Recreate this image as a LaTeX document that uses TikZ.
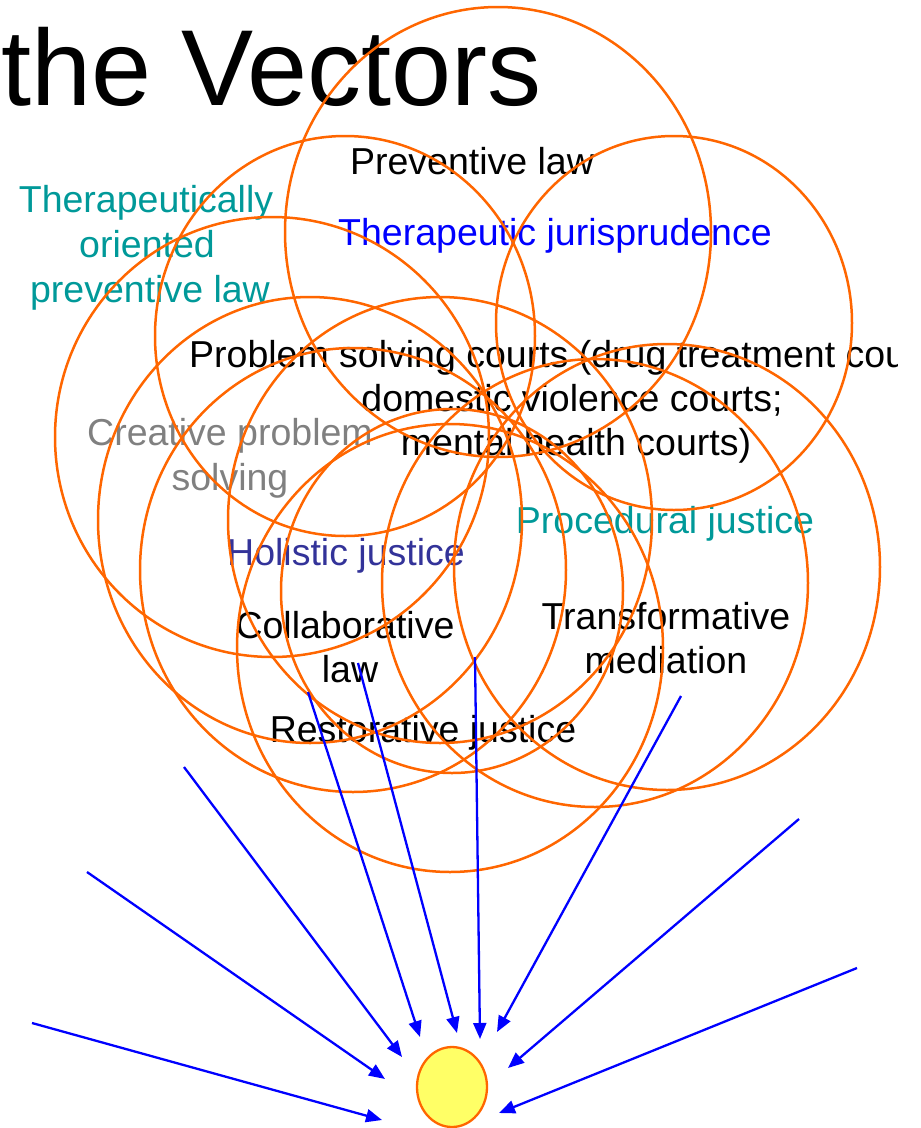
\documentclass[tikz,border=0pt]{standalone}
\usepackage{fontspec}
\setmainfont{Liberation Sans}
\usetikzlibrary{arrows.meta,shapes.geometric}
\definecolor{vorange}{HTML}{FF6600}
\definecolor{vblue}{HTML}{0000FF}
\definecolor{vteal}{HTML}{009999}
\definecolor{vgray}{HTML}{808080}
\definecolor{vslate}{HTML}{333399}
\definecolor{vyellow}{HTML}{FFFF66}
\begin{document}
\begin{tikzpicture}[x=1pt,y=-1pt,
  ring/.style={ellipse, draw=vorange, line width=2.5pt, inner sep=0pt, outer sep=0pt},
  lbl/.style={anchor=base, inner sep=0pt, font=\fontsize{37.5}{44}\selectfont},
  vec/.style={draw=vblue, line width=2.3pt, -{Triangle[length=16pt,width=13pt]}},
]
\useasboundingbox (0,0) rectangle (921,1128);
\clip (0,0) rectangle (897,1128);
% title
\node[anchor=base west, inner sep=0pt, font=\fontsize{108}{120}\selectfont] (title) at (1,105) {the Vectors};
% labels
\node[lbl] (prev) at (472,174) {Preventive law};
\node[lbl, text=vblue] (tj) at (555,245) {Therapeutic jurisprudence};
\node[lbl, text=vteal] (topl1) at (146,212) {Therapeutically};
\node[lbl, text=vteal] (topl2) at (147,257) {oriented};
\node[lbl, text=vteal] (topl3) at (150,302) {preventive law};
\node[lbl, anchor=base west] (psc1) at (189,367) {Problem solving courts (drug treatment cou};
\node[lbl] (psc2) at (572,411) {domestic violence courts;};
\node[lbl] (psc3) at (576,455) {mental health courts)};
\node[lbl, text=vgray] (cps1) at (230,445) {Creative problem};
\node[lbl, text=vgray] (cps2) at (230,490) {solving};
\node[lbl, text=vslate] (hol) at (346,565) {Holistic justice};
\node[lbl, text=vteal] (proc) at (665,533) {Procedural justice};
\node[lbl] (coll1) at (345,638) {Collaborative};
\node[lbl] (coll2) at (350,682) {law};
\node[lbl] (trans1) at (666,629) {Transformative};
\node[lbl] (trans2) at (666,673) {mediation};
\node[lbl] (rest) at (423,742) {Restorative justice};
% ellipses
\node[ring, minimum width=426pt, minimum height=450pt] (eA) at (498,232) {};
\node[ring, minimum width=380pt, minimum height=400pt] (eB) at (345,336) {};
\node[ring, minimum width=356pt, minimum height=374pt] (eC) at (674,323) {};
\node[ring, minimum width=434pt, minimum height=440pt] (eD) at (272,437) {};
\node[ring, minimum width=424pt, minimum height=446pt] (eE) at (310,520) {};
\node[ring, minimum width=424pt, minimum height=446pt] (eF) at (440,520) {};
\node[ring, minimum width=426pt, minimum height=444pt] (eG) at (353,570) {};
\node[ring, minimum width=426pt, minimum height=446pt] (eH) at (667,567) {};
\node[ring, minimum width=426pt, minimum height=448pt] (eI) at (450,648) {};
\node[ring, minimum width=426pt, minimum height=448pt] (eJ) at (595,583) {};
\node[ring, minimum width=342pt, minimum height=364pt] (eK) at (452,591) {};
% sun
\node[ellipse, draw=vorange, fill=vyellow, line width=2.3pt, inner sep=0pt, minimum width=70pt, minimum height=80pt] (sun) at (452,1087) {};
% arrows
\coordinate (t1) at (32,1023);  \coordinate (h1) at (382,1120);
\coordinate (t2) at (87,872);   \coordinate (h2) at (385,1079);
\coordinate (t3) at (184,767);  \coordinate (h3) at (402,1057);
\coordinate (t4) at (308,692);  \coordinate (h4) at (420,1037);
\coordinate (t5) at (358,663);  \coordinate (h5) at (457,1033);
\coordinate (t6) at (475,657);  \coordinate (h6) at (480,1039);
\coordinate (t7) at (681,696);  \coordinate (h7) at (497,1032);
\coordinate (t8) at (799,819);  \coordinate (h8) at (508,1068);
\coordinate (t9) at (857,968);  \coordinate (h9) at (499,1113);
\foreach \i in {1,...,9} { \draw[vec] (t\i) -- (h\i); }
\end{tikzpicture}
\end{document}
